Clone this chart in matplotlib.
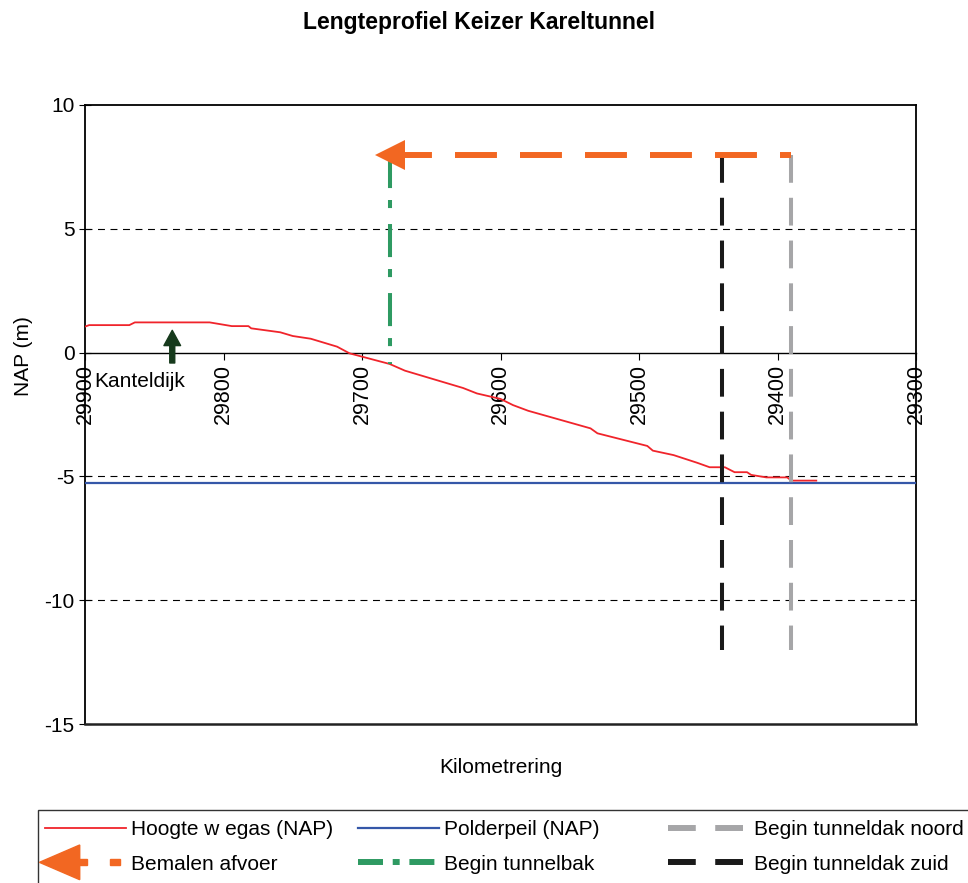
import numpy as np
import matplotlib
matplotlib.use("Agg")
import matplotlib.pyplot as plt
from matplotlib.lines import Line2D
from matplotlib.patches import Polygon, Rectangle
from matplotlib.legend_handler import HandlerBase

plt.rcParams['font.family'] = ['Liberation Sans', 'DejaVu Sans']
plt.rcParams['lines.scale_dashes'] = False

# ---------- data ----------
km_weg = [29900, 29897, 29868, 29864, 29810, 29794, 29782, 29780, 29759, 29750,
          29737, 29718, 29709, 29680, 29669, 29627, 29617, 29600, 29591, 29580,
          29535, 29530, 29494, 29490, 29475, 29458, 29449, 29438, 29431, 29422,
          29419, 29408, 29393, 29390, 29372]
hoogte_weg = [1.05, 1.11, 1.11, 1.22, 1.22, 1.07, 1.07, 0.98, 0.82, 0.67,
              0.56, 0.24, -0.03, -0.46, -0.73, -1.43, -1.65, -1.87, -2.12, -2.35,
              -3.06, -3.26, -3.77, -3.96, -4.14, -4.45, -4.63, -4.63, -4.83, -4.83,
              -4.94, -5.04, -5.04, -5.17, -5.17]
km_polder = [29900, 29300]
polderpeil = [-5.25, -5.25]

km_tunnelbak = 29680
km_dak_noord = 29390
km_dak_zuid = 29440
lijn_top = 8
lijn_bodem = -12
km_kanteldijk = 29837

x_ticks = [29900, 29800, 29700, 29600, 29500, 29400, 29300]
y_ticks = [-15, -10, -5, 0, 5, 10]

ORANJE = '#f26722'
GROEN = '#2e9a62'
GRIJS = '#a6a6a8'
ZWART = '#1a1a1a'
ROOD = '#f0242b'
BLAUW = '#3557a8'


class ArrowHandler(HandlerBase):
    # triangle + short dash, like the Excel legend key
    def create_artists(self, legend, orig_handle, xdescent, ydescent,
                       width, height, fontsize, trans):
        yc = height / 2 - ydescent
        x0 = -xdescent
        tri = Polygon([[x0 - 4, yc], [x0 + 25, yc + 12.5], [x0 + 25, yc - 12.5]],
                      closed=True, color=ORANJE, transform=trans)
        stem = Rectangle((x0 + 24, yc - 2.2), 6, 4.4, color=ORANJE, transform=trans)
        sq = Rectangle((x0 + width - 11, yc - 2.2), 7, 4.4, color=ORANJE, transform=trans)
        return [tri, stem, sq]


fig = plt.figure(figsize=(9.68, 8.83), dpi=100)
ax = fig.add_axes([85 / 968, 1 - 724 / 883, 831 / 968, 619 / 883])

ax.set_xlim(29900, 29300)
ax.set_ylim(-15, 10)

# grid lines at 5, -5, -10
for yv in y_ticks:
    if yv not in (10, 0, -15):
        ax.axhline(yv, color='black', lw=0.8, dashes=(5, 4), zorder=1)

# road and polder level
ax.plot(km_polder, polderpeil, color=BLAUW, lw=1.6, zorder=3)
ax.plot(km_weg, hoogte_weg, color=ROOD, lw=1.3, zorder=4)

# vertical marker lines
ax.plot([km_dak_zuid, km_dak_zuid], [lijn_top, lijn_bodem], color=ZWART, lw=2.9,
        dashes=(20, 10.8), zorder=5)
ax.plot([km_dak_noord, km_dak_noord], [lijn_top, lijn_bodem], color=GRIJS, lw=2.9,
        dashes=(20, 10.8), zorder=5)
bak_bodem = np.interp(km_tunnelbak, km_weg[::-1], hoogte_weg[::-1])
ax.plot([km_tunnelbak, km_tunnelbak], [lijn_top, bak_bodem], color=GROEN, lw=2.9,
        dashes=(23.8, 8.6, 5.8, 11.5), zorder=5)

# pumped discharge arrow
ax.plot([km_tunnelbak, km_dak_noord], [lijn_top, lijn_top], color=ORANJE, lw=4.3,
        dashes=(30.2, 16.6), solid_capstyle='butt', dash_capstyle='butt', zorder=6)
ax.plot([km_tunnelbak], [lijn_top], marker='<', ms=21, color=ORANJE, mew=0, zorder=7)

# Kanteldijk marker
ax.annotate('', xy=(km_kanteldijk, 0.9), xytext=(km_kanteldijk, -0.42),
            arrowprops=dict(width=3.6, headwidth=12, headlength=11,
                            color='#163a1c', shrink=0))
ax.text(29893, -1.15, 'Kanteldijk', fontsize=15, va='center', ha='left')

# axes styling
ax.spines['bottom'].set_position(('data', 0))
ax.spines['bottom'].set_linewidth(1.0)
for s in ('left', 'right', 'top'):
    ax.spines[s].set_linewidth(1.3)
    ax.spines[s].set_color('black')
ax.axhline(-15, color='#222222', lw=1.8, clip_on=False, zorder=8)

ax.set_xticks(x_ticks)
ax.set_xticklabels([str(t) for t in x_ticks], rotation=90, fontsize=15.5)
ax.tick_params(axis='x', direction='out', length=5, width=0.8, pad=3)
ax.set_yticks(y_ticks)
ax.set_yticklabels([str(t) for t in y_ticks], fontsize=15)
ax.tick_params(axis='y', direction='inout', length=9, width=0.8, pad=3)

ax.set_xlabel('Kilometrering', fontsize=15)
ax.xaxis.set_label_coords(0.5, -0.055)
ax.set_ylabel('NAP (m)', fontsize=15)
ax.yaxis.set_label_coords(-0.063, 0.595)

fig.text(479 / 968, 1 - 22 / 883, 'Lengteprofiel Keizer Kareltunnel',
         fontsize=16.5, fontweight='bold', ha='center', va='center')

# ---------- legend ----------
h_weg = Line2D([], [], color=ROOD, lw=1.3)
h_pomp = Line2D([], [], color=ORANJE)
h_polder = Line2D([], [], color=BLAUW, lw=1.6)
h_bak = Line2D([], [], color=GROEN, lw=4.3, dashes=(18, 7, 5, 7))
h_noord = Line2D([], [], color=GRIJS, lw=4.3, dashes=(20, 14))
h_zuid = Line2D([], [], color=ZWART, lw=4.3, dashes=(20, 14))

kolommen = [
    ([h_weg, h_pomp], ['Hoogte w egas (NAP)', 'Bemalen afvoer'], 45),
    ([h_polder, h_bak], ['Polderpeil (NAP)', 'Begin tunnelbak'], 358),
    ([h_noord, h_zuid], ['Begin tunneldak noord', 'Begin tunneldak zuid'], 668),
]
for handles, labels, xpx in kolommen:
    leg = fig.legend(handles, labels, loc='upper left',
                     bbox_to_anchor=(xpx / 968, 1 - 820 / 883),
                     frameon=False, fontsize=15, handlelength=3.87,
                     handletextpad=0.25, borderpad=0, borderaxespad=0,
                     labelspacing=0.75, handler_map={h_pomp: ArrowHandler()})

fig.patches.append(Rectangle((38 / 968, -0.1), 1.0, (883 - 810) / 883 + 0.1,
                             transform=fig.transFigure, fill=False,
                             edgecolor='#333333', lw=1.0))

fig.savefig('out.png', dpi=100)
